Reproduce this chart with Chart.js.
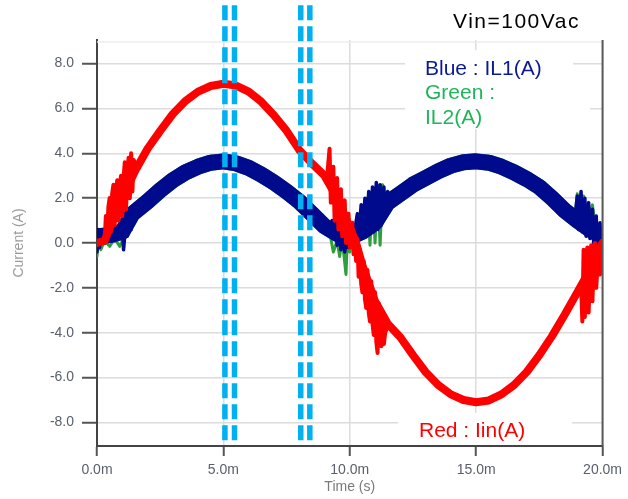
<!DOCTYPE html>
<html>
<head>
<meta charset="utf-8">
<script src="https://cdn.jsdelivr.net/npm/chart.js@4.4.0/dist/chart.umd.min.js"></script>
<style>
    html, body { margin: 0; padding: 0; background: #ffffff; }
</style>
</head>
<body>
<canvas id="chart1" width="628" height="499"></canvas>
<script>
"use strict";

// 軸の範囲と目盛り
const timeTicks = [0, 5, 10, 15, 20];
const currentTicks = [-8, -6, -4, -2, 0, 2, 4, 6, 8];
const currentMin = -9.05;
const currentMax = 9.05;

// Iin (赤) の主な波形
const redT = [0, 0.3, 0.8, 1.5, 2.0, 2.5, 3.0, 3.5, 4.0, 4.5, 5.0, 5.5, 6.0, 6.5, 7.0, 7.5, 8.0, 8.5, 9.0, 9.5,
    10.0, 10.25, 10.5, 11.0, 11.5, 12.0, 12.5, 13.0, 13.5, 14.0, 14.5, 15.0, 15.5, 16.0, 16.5, 17.0, 17.5, 18.0, 18.5, 19.0,
    19.3, 19.6, 20.0];
const redI = [0, 0.1, 1.5, 3.2, 4.2, 5.0, 5.75, 6.33, 6.75, 7.0, 7.1, 7.02, 6.75, 6.3, 5.7, 5.0, 4.15, 3.55, 3.0, 2.0,
    0.7, 0.0, -1.0, -2.6, -3.6, -4.2, -5.0, -5.75, -6.33, -6.75, -7.0, -7.1, -7.02, -6.75, -6.33, -5.75, -5.0, -4.15, -3.2, -2.2,
    -1.6, -0.9, 0.0];

// Iin のゼロクロス付近のノイズ
const redNoiseT = [
    [0.3, 0.35, 0.4, 0.45, 0.5, 0.55, 0.6, 0.65, 0.7, 0.75, 0.8, 0.85, 0.9, 0.95, 1.0, 1.05, 1.1, 1.15, 1.2, 1.25,
        1.3, 1.35, 1.4, 1.45, 1.5, 1.6],
    [9.1, 9.2, 9.25, 9.3, 9.35, 9.4, 9.45, 9.5, 9.55, 9.6, 9.65, 9.7, 9.75, 9.8, 9.85, 9.9, 9.95, 10.0, 10.05, 10.1,
        10.15, 10.2, 10.25, 10.3, 10.35, 10.4, 10.45, 10.5, 10.55, 10.6, 10.65, 10.7, 10.75, 10.8, 10.85, 10.9, 10.95, 11.0, 11.05, 11.1,
        11.15, 11.2, 11.25, 11.3, 11.35, 11.4, 11.5],
    [19.15, 19.2, 19.25, 19.3, 19.35, 19.4, 19.45, 19.5, 19.55, 19.6, 19.65, 19.7, 19.75, 19.8, 19.85, 19.9, 19.95, 20.0],
];
const redNoiseI = [
    [0.0, 1.2, 0.3, 1.6, 2.0, 0.5, 2.2, 2.6, 0.8, 2.3, 2.8, 1.0, 2.6, 3.0, 1.2, 2.9, 3.6, 1.5, 3.1, 3.8,
        2.0, 4.0, 2.3, 3.7, 3.6, 3.3],
    [2.9, 4.2, 1.8, 3.0, 3.4, 1.0, 2.6, 2.9, 0.6, 2.1, 2.4, 0.3, 1.6, 1.9, 0.0, 1.0, 1.3, -0.2, 0.6, 0.9,
        -0.5, 0.1, -0.8, 0.2, -1.5, -0.3, -1.8, -2.2, -0.8, -2.5, -2.9, -1.2, -3.1, -3.5, -1.7, -3.6, -4.1, -2.2, -4.4, -4.9,
        -2.7, -4.2, -4.6, -3.3, -4.5, -4.0, -3.7],
    [-1.8, -3.5, -0.3, -3.3, -1.2, -0.2, -3.1, -1.5, -0.1, -2.6, -0.8, 0.0, -2.0, -1.0, -0.2, -1.4, -0.3, 0.0],
];

// IL1 (青) / IL2 (緑) の主な波形
const blueT = [0, 0.5, 1.0, 1.4, 2.0, 2.5, 3.0, 3.5, 4.0, 4.5, 5.0, 5.5, 6.0, 6.5, 7.0, 7.5, 8.0, 8.5, 9.0, 9.5,
    10.0, 10.5, 11.0, 11.5, 12.0, 12.5, 13.0, 13.5, 14.0, 14.5, 15.0, 15.5, 16.0, 16.5, 17.0, 17.5, 18.0, 18.5, 19.0, 19.5, 20.0];
const blueI = [0.3, 0.35, 0.5, 1.3, 1.85, 2.35, 2.8, 3.15, 3.4, 3.58, 3.64, 3.55, 3.35, 3.05, 2.7, 2.3, 1.85, 1.3, 0.75, 0.4,
    0.25, 0.5, 0.9, 1.8, 2.2, 2.6, 2.9, 3.2, 3.45, 3.6, 3.64, 3.58, 3.4, 3.15, 2.85, 2.5, 2.0, 1.45, 1.0, 0.6, 0.3];
const greenI = [0.3, 0.35, 0.5, 1.3, 1.85, 2.35, 2.8, 3.15, 3.4, 3.58, 3.64, 3.55, 3.35, 3.05, 2.7, 2.3, 1.85, 1.3, 0.75, 0.4,
    0.25, 0.5, 0.9, 1.8, 2.2, 2.6, 2.9, 3.2, 3.45, 3.6, 3.64, 3.58, 3.4, 3.15, 2.85, 2.5, 2.0, 1.45, 1.0, 0.6, 0.3];

// IL1 のノイズ
const blueNoiseT = [
    [0.0, 0.05, 0.1, 0.2, 0.3, 0.4, 0.5, 0.6, 0.7, 0.8, 0.9, 1.0, 1.05, 1.15, 1.2, 1.3, 1.35],
    [9.2, 9.3, 9.35, 9.45, 9.5, 9.6, 9.65, 9.75, 9.8, 9.9, 9.95, 10.05, 10.1, 10.2, 10.3, 10.35, 10.45, 10.5, 10.6, 10.65,
        10.75, 10.8, 10.9, 10.95, 11.05, 11.1, 11.2, 11.25, 11.35, 11.4, 11.5, 11.6],
    [18.9, 19.0, 19.05, 19.15, 19.2, 19.3, 19.35, 19.45, 19.5, 19.6, 19.65, 19.75, 19.8, 19.9, 19.95, 20.0],
];
const blueNoiseI = [
    [-0.4, 0.6, -0.2, 0.5, 0.0, 0.6, 0.1, 0.7, 0.1, 0.6, 0.2, 0.9, -0.3, 1.0, 0.3, 1.2, 0.6],
    [0.7, 1.0, 0.2, 0.9, -0.1, 0.7, -0.3, 0.6, -0.4, 0.5, -0.2, 0.4, 0.0, 0.6, 1.3, 0.2, 1.7, 0.3, 2.0, 0.3,
        2.3, 0.4, 2.5, 0.5, 2.7, 0.6, 2.6, 0.8, 2.5, 1.2, 2.3, 1.9],
    [1.0, 2.1, 0.6, 2.3, 0.5, 2.0, 0.3, 1.8, 0.2, 1.5, 0.0, 1.2, -0.2, 0.9, -0.5, 0.4],
];

// IL2 のノイズ (青の下からはみ出す部分)
const greenNoiseT = [
    [0.0, 0.05, 0.15, 0.3, 0.5, 0.7, 0.9, 1.1, 1.3, 1.4],
    [9.2, 9.35, 9.5, 9.6, 9.7, 9.85, 9.9, 10.0, 10.1, 10.5, 10.7, 10.8, 10.9, 11.0, 11.1, 11.2, 11.3],
    [18.9, 19.0, 19.1, 19.25, 19.4, 19.6, 19.8, 19.9, 20.0],
];
const greenNoiseI = [
    [-0.6, 0.2, -0.3, 0.1, -0.15, 0.2, -0.15, 0.3, 0.9, 1.2],
    [0.5, -0.4, 0.1, -0.6, 0.2, -1.4, 0.0, -0.4, 0.2, 1.2, 2.0, -0.1, 2.3, 0.0, 2.6, -0.1, 2.6],
    [1.0, 2.2, 0.9, 2.1, 1.0, 1.7, 0.0, -1.1, 0.2],
];

// カーソル線 (ms)
const cursorT = [5.06, 5.44, 8.06, 8.42];
const cursorTop = 10.6;

const fontFamily = "'Liberation Sans', Arial, sans-serif";

const toPoints = (tArr, vArr) => tArr.map((t, i) => ({ x: t, y: vArr[i] }));

const toGapPoints = (tRegions, vRegions) => {
    // 区間ごとに分けて間を null でつなぐ
    const points = [];
    tRegions.forEach((tArr, k) => {
        points.push(...toPoints(tArr, vRegions[k]));
        points.push({ x: tArr[tArr.length - 1], y: null });
    });
    return points;
};

const lineSet = (data, color, width, order) => ({
    data: data,
    borderColor: color,
    backgroundColor: color,
    borderWidth: width,
    pointRadius: 0,
    tension: 0,
    fill: false,
    spanGaps: false,
    borderJoinStyle: "round",
    borderCapStyle: "round",
    order: order,
});

const cursorSets = cursorT.map((t) => ({
    data: [{ x: t, y: cursorTop }, { x: t, y: currentMin }],
    borderColor: "#00b0f0",
    borderWidth: 5.5,
    borderDash: [15, 6],
    pointRadius: 0,
    fill: false,
    clip: false,
    order: 0,
}));

const notesPlugin = {
    id: "notes",
    beforeDatasetsDraw: (chart) => {
        const { ctx, chartArea } = chart;
        ctx.save();
        // 上枠 (薄い)
        ctx.strokeStyle = "#ececec";
        ctx.lineWidth = 1.5;
        ctx.beginPath();
        ctx.moveTo(chartArea.left, chartArea.top + 2);
        ctx.lineTo(chartArea.right, chartArea.top + 2);
        ctx.stroke();
        // 文字の白い背景
        ctx.fillStyle = "#ffffff";
        ctx.fillRect(405, 50, 168, 30);
        ctx.fillRect(405, 80, 185, 49);
        ctx.fillRect(398, 413, 174, 32);
        ctx.restore();
    },
    afterDraw: (chart) => {
        const { ctx, chartArea } = chart;
        ctx.save();
        // 右枠
        ctx.strokeStyle = "#5a5a5a";
        ctx.lineWidth = 2;
        ctx.beginPath();
        ctx.moveTo(chartArea.right, chartArea.top);
        ctx.lineTo(chartArea.right, chartArea.bottom);
        ctx.stroke();

        ctx.textAlign = "left";
        ctx.textBaseline = "alphabetic";
        ctx.font = "21px " + fontFamily;
        ctx.fillStyle = "#000000";
        ctx.letterSpacing = "1.5px";
        ctx.fillText("Vin=100Vac", 453, 28);
        ctx.letterSpacing = "0px";
        ctx.fillStyle = "#0a1a96";
        ctx.fillText("Blue : IL1(A)", 425, 75);
        ctx.fillStyle = "#1fb55a";
        ctx.fillText("Green :", 425, 99);
        ctx.fillText("IL2(A)", 425, 124);
        ctx.fillStyle = "#ff0000";
        ctx.fillText("Red : Iin(A)", 419, 437);
        ctx.restore();
    },
};

const drawChart = () => {
    const context = document.getElementById("chart1").getContext("2d");
    return new Chart(context, {
        type: "line",
        data: {
            datasets: [
                ...cursorSets,
                lineSet(toGapPoints(redNoiseT, redNoiseI), "#ff0000", 4, 1),
                lineSet(toPoints(redT, redI), "#ff0000", 8, 2),
                lineSet(toGapPoints(blueNoiseT, blueNoiseI), "#000a8c", 3.5, 3),
                lineSet(toPoints(blueT, blueI), "#000a8c", 16, 4),
                lineSet(toGapPoints(greenNoiseT, greenNoiseI), "#2f9e3c", 3, 5),
                lineSet(toPoints(blueT, greenI), "#2f9e3c", 16, 6),
            ],
        },
        options: {
            responsive: false,
            animation: false,
            events: [],
            layout: { padding: { left: 0, right: 24, top: 40, bottom: 0 } },
            plugins: {
                legend: { display: false },
                tooltip: { enabled: false },
            },
            scales: {
                x: {
                    type: "linear",
                    min: 0,
                    max: 20,
                    afterBuildTicks: (scale) => {
                        scale.ticks = timeTicks.map((v) => ({ value: v }));
                    },
                    afterFit: (scale) => {
                        scale.height = 53;
                    },
                    grid: {
                        color: "#dcdcdc",
                        lineWidth: 1.5,
                        tickColor: "#555555",
                        tickLength: 10,
                        tickWidth: 2,
                    },
                    border: { color: "#444444", width: 2 },
                    ticks: {
                        padding: 6,
                        color: "#59606b",
                        font: { family: fontFamily, size: 14 },
                        maxRotation: 0,
                        callback: (value) => value.toFixed(1) + "m",
                    },
                    title: {
                        display: true,
                        text: "Time (s)",
                        color: "#7a7a7a",
                        font: { family: fontFamily, size: 14 },
                        padding: { top: 0, bottom: 3 },
                    },
                },
                y: {
                    min: currentMin,
                    max: currentMax,
                    afterBuildTicks: (scale) => {
                        scale.ticks = currentTicks.map((v) => ({ value: v }));
                    },
                    afterFit: (scale) => {
                        scale.width = 97;
                    },
                    grid: {
                        color: "#dcdcdc",
                        lineWidth: 1.5,
                        tickColor: "#555555",
                        tickLength: 15,
                        tickWidth: 2,
                    },
                    border: { color: "#444444", width: 2 },
                    ticks: {
                        padding: 8,
                        color: "#59606b",
                        font: { family: fontFamily, size: 14 },
                        callback: (value) => value.toFixed(1),
                    },
                    title: {
                        display: true,
                        text: "Current (A)",
                        color: "#9a9a9a",
                        font: { family: fontFamily, size: 14 },
                        padding: { top: 11, bottom: 0 },
                    },
                },
            },
        },
        plugins: [notesPlugin],
    });
};

// 👇グラフ描画
drawChart();
</script>
</body>
</html>
